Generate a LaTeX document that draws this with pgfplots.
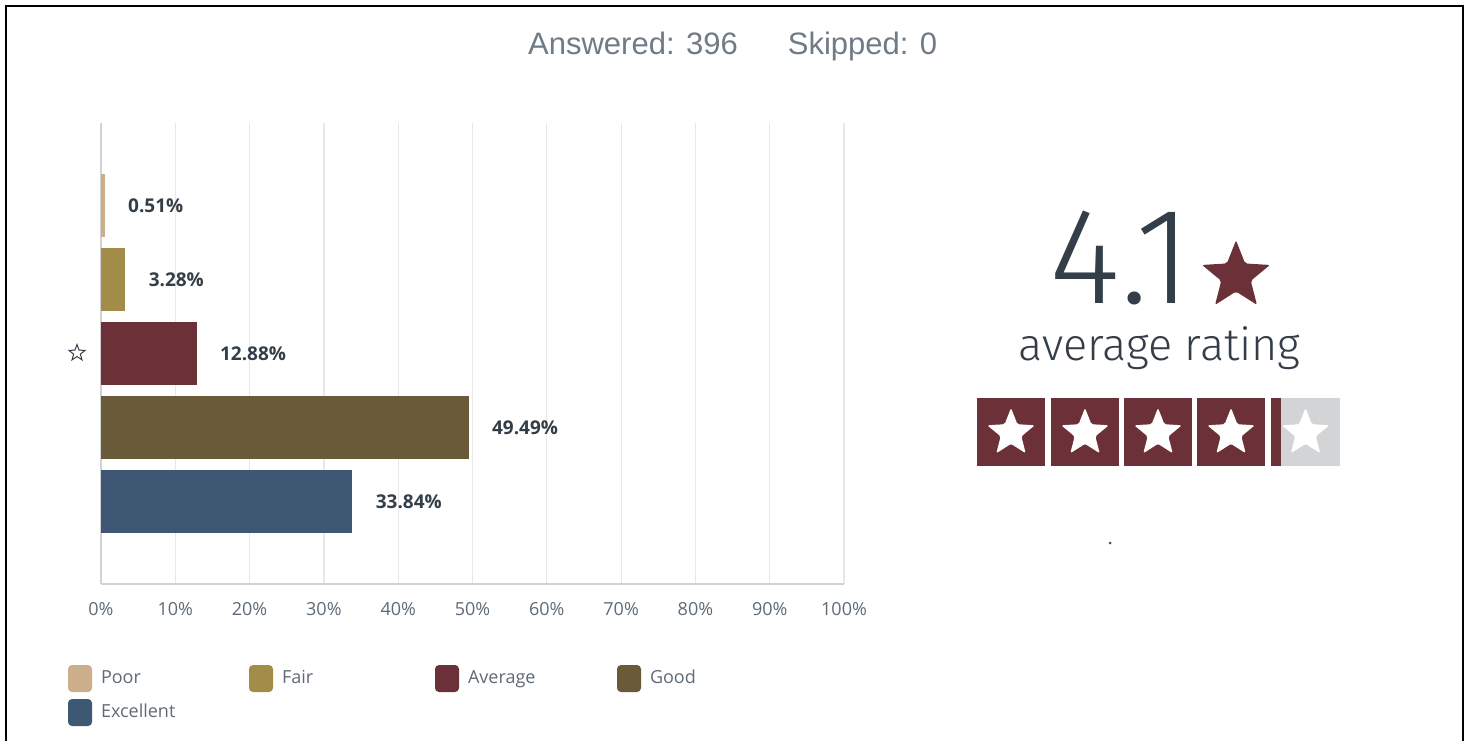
\documentclass[border=0pt]{standalone}
\usepackage{fontspec}
\setmainfont{Open Sans}
\newfontfamily\hdrfont{Liberation Sans}
\newfontfamily\lightfont{Fira Sans Light}
\usepackage{pgfplots}
\pgfplotsset{compat=1.18}
\usetikzlibrary{shapes.geometric}

\definecolor{poor}{HTML}{CDAE8A}
\definecolor{fair}{HTML}{A28C4A}
\definecolor{avg}{HTML}{6B3038}
\definecolor{good}{HTML}{6A5B38}
\definecolor{exc}{HTML}{3E5773}
\definecolor{gridc}{HTML}{E8E8E8}
\definecolor{axisc}{HTML}{D2D2D2}
\definecolor{dark}{HTML}{333E48}
\definecolor{hdr}{HTML}{6F7B87}
\definecolor{tickc}{HTML}{5E6A75}
\definecolor{boxgray}{HTML}{D3D4D6}

\pgfplotsset{swatch/.style={legend image code/.code={\fill[##1, draw=none, rounded corners=2pt] (0pt,-6.75pt) rectangle (12pt,6.75pt);}}}

\begin{document}
\begin{tikzpicture}
\path[use as bounding box] (0,0) rectangle (735.5pt,-370pt);
\begin{axis}[
  at={(50.5pt,-292pt)}, anchor=south west,
  scale only axis, width=371.5pt, height=230.5pt,
  xbar, bar width=0.85, bar shift=0pt,
  xmin=0, xmax=100, ymin=-1.12, ymax=5.12, y dir=reverse,
  enlargelimits=false, clip=false,
  ytick=\empty,
  xtick={0,10,...,100},
  xticklabels={0\%,10\%,20\%,30\%,40\%,50\%,60\%,70\%,80\%,90\%,100\%},
  xticklabel style={font=\fontsize{9}{11}\selectfont, text=tickc, inner sep=0pt, anchor=center, yshift=-12.5pt},
  major tick length=0pt,
  xmajorgrids, major grid style={draw=gridc, line width=0.6pt},
  axis x line*=bottom, axis y line*=left,
  axis line style={draw=axisc, line width=0.8pt, -},
  point meta=x,
  nodes near coords={\pgfmathprintnumber[fixed, precision=2, fixed zerofill, assume math mode=true]{\pgfplotspointmeta}\%},
  every node near coord/.append style={anchor=west, inner sep=0pt, xshift=11.5pt, font=\bfseries\fontsize{9.5}{11}\selectfont, text=dark},
  legend style={at={(-0.0444,-0.1757)}, anchor=north west, draw=none, fill=none, inner sep=0pt, outer sep=0pt,
    legend columns=4, font=\fontsize{9}{11}\selectfont, row sep=3.5pt,
    /tikz/every odd column/.append style={column sep=4.5pt},
    nodes={inner sep=0pt, text=tickc}},
  legend cell align=left,
]
\addplot[fill=poor, draw=none, swatch] coordinates {(0.51,0)};
\addlegendentry{\makebox[74pt][l]{Poor}}
\addplot[fill=fair, draw=none, swatch] coordinates {(3.28,1)};
\addlegendentry{\makebox[76.5pt][l]{Fair}}
\addplot[fill=avg, draw=none, swatch] coordinates {(12.88,2)};
\addlegendentry{\makebox[74.5pt][l]{Average}}
\addplot[fill=good, draw=none, swatch] coordinates {(49.49,3)};
\addlegendentry{\makebox[40pt][l]{Good}}
\addplot[fill=exc, draw=none, swatch] coordinates {(33.84,4)};
\addlegendentry{\makebox[74pt][l]{Excellent}}
\end{axis}
\begin{scope}[x=0.5pt,y=-0.5pt]
\draw[line width=1.25pt] (6,760) -- (6,6) -- (1463,6) -- (1463,760);
\node[font=\hdrfont\fontsize{15.5}{18}\selectfont, text=hdr, anchor=base] at (633,54) {Answered: 396};
\node[font=\hdrfont\fontsize{15.5}{18}\selectfont, text=hdr, anchor=base] at (862.5,54) {Skipped: 0};
% small outline star beside Average
\node[star, star points=5, star point ratio=2.4, draw=dark, line width=0.5pt, minimum size=8.5pt, inner sep=0pt] at (77,353) {};
% big rating
\node[font=\lightfont\fontsize{68.5}{70}\selectfont, text=dark, anchor=base west, inner sep=0pt, text depth=0pt] at (1049,303) {4.1};
\node[star, star points=5, star point ratio=2.3, fill=avg, minimum size=35.7pt, inner sep=0pt, rounded corners=1pt] at (1236,276) {};
\node[font=\lightfont\fontsize{22.5}{26}\selectfont, text=dark, anchor=base, inner sep=0pt, text height=12pt] at (1159.5,360) {average rating};
% rating boxes
\foreach \bx in {977,1051,1124,1197} {
  \fill[avg] (\bx,398) rectangle ++(68,68);
  \node[star, star points=5, star point ratio=2.3, fill=white, minimum size=25pt, inner sep=0pt, rounded corners=0.8pt] at (\bx+34,433) {};
}
\fill[boxgray] (1271,398) rectangle (1340,466);
\fill[avg] (1271,398) rectangle (1281,466);
\node[star, star points=5, star point ratio=2.3, fill=white, minimum size=25pt, inner sep=0pt, rounded corners=0.8pt] at (1305.5,433) {};
\fill[black!70] (1110,543) circle (1.5);
\end{scope}
\end{tikzpicture}
\end{document}
